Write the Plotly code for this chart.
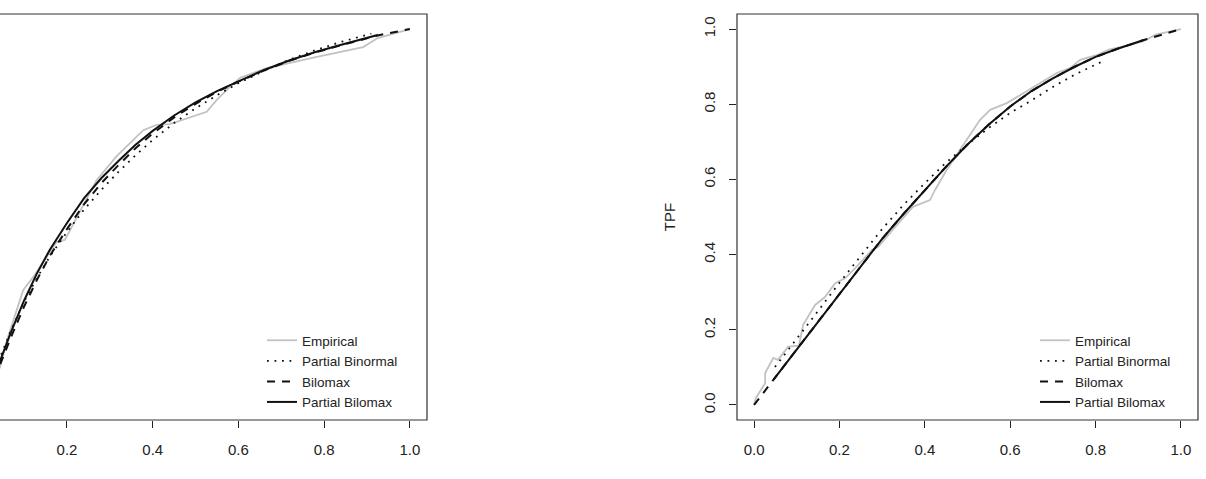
import plotly.graph_objects as go

# ---------------- data ----------------
# Left panel
L_emp_fpf = [0.0, 0.02, 0.044, 0.060, 0.098, 0.121, 0.153, 0.176, 0.195, 0.211, 0.238, 0.269, 0.316, 0.378, 0.409, 0.440, 0.526, 0.549, 0.580, 0.604, 0.666, 0.720, 0.783, 0.891, 0.925, 1.0]
L_emp_tpf = [0.0, 0.045, 0.101, 0.173, 0.306, 0.340, 0.394, 0.434, 0.439, 0.473, 0.532, 0.598, 0.662, 0.731, 0.745, 0.747, 0.780, 0.811, 0.846, 0.870, 0.896, 0.910, 0.926, 0.952, 0.976, 1.0]

L_pbn_fpf = [0.02, 0.044, 0.07, 0.10, 0.13, 0.16, 0.20, 0.24, 0.28, 0.32, 0.36, 0.40, 0.45, 0.50, 0.55, 0.60, 0.66, 0.72, 0.78, 0.84, 0.91]
L_pbn_tpf = [0.060, 0.128, 0.200, 0.275, 0.338, 0.395, 0.460, 0.520, 0.572, 0.620, 0.664, 0.705, 0.750, 0.789, 0.824, 0.856, 0.889, 0.919, 0.944, 0.966, 0.988]

L_blx_fpf = [0.0, 0.02, 0.044, 0.07, 0.10, 0.13, 0.16, 0.20, 0.24, 0.28, 0.32, 0.36, 0.40, 0.45, 0.50, 0.55, 0.60, 0.66, 0.72, 0.78, 0.84, 0.88, 0.925, 0.96, 1.0]
L_blx_tpf = [0.0, 0.043, 0.108, 0.182, 0.262, 0.333, 0.397, 0.468, 0.534, 0.590, 0.638, 0.683, 0.722, 0.765, 0.801, 0.833, 0.860, 0.890, 0.916, 0.938, 0.957, 0.969, 0.983, 0.991, 1.0]

L_pbx_fpf = [0.02, 0.044, 0.07, 0.10, 0.13, 0.16, 0.20, 0.24, 0.28, 0.32, 0.36, 0.40, 0.45, 0.50, 0.55, 0.60, 0.66, 0.72, 0.78, 0.84, 0.88, 0.925]
L_pbx_tpf = [0.045, 0.118, 0.196, 0.278, 0.350, 0.413, 0.484, 0.550, 0.603, 0.649, 0.692, 0.729, 0.770, 0.805, 0.835, 0.861, 0.891, 0.917, 0.939, 0.958, 0.970, 0.984]

# Right panel
R_emp_fpf = [0.0, 0.004, 0.026, 0.026, 0.045, 0.056, 0.080, 0.105, 0.115, 0.143, 0.166, 0.190, 0.213, 0.237, 0.276, 0.291, 0.325, 0.372, 0.412, 0.424, 0.451, 0.498, 0.529, 0.553, 0.592, 0.623, 0.670, 0.709, 0.740, 0.764, 0.806, 0.831, 0.882, 0.911, 0.941, 1.0]
R_emp_tpf = [0.0, 0.018, 0.058, 0.085, 0.125, 0.120, 0.155, 0.158, 0.213, 0.266, 0.287, 0.324, 0.337, 0.364, 0.412, 0.421, 0.466, 0.527, 0.545, 0.572, 0.625, 0.705, 0.758, 0.785, 0.803, 0.824, 0.856, 0.883, 0.896, 0.918, 0.932, 0.945, 0.958, 0.967, 0.985, 1.0]

R_pbn_fpf = [0.049, 0.10, 0.15, 0.20, 0.25, 0.30, 0.35, 0.40, 0.45, 0.50, 0.55, 0.60, 0.65, 0.70, 0.75, 0.80, 0.82]
R_pbn_tpf = [0.101, 0.175, 0.250, 0.325, 0.397, 0.468, 0.532, 0.590, 0.645, 0.693, 0.737, 0.777, 0.810, 0.846, 0.878, 0.906, 0.916]

R_blx_fpf = [0.0, 0.03, 0.046, 0.10, 0.15, 0.20, 0.25, 0.30, 0.35, 0.40, 0.45, 0.50, 0.55, 0.60, 0.65, 0.70, 0.75, 0.80, 0.85, 0.911, 0.95, 1.0]
R_blx_tpf = [0.0, 0.046, 0.068, 0.148, 0.222, 0.297, 0.371, 0.442, 0.508, 0.572, 0.634, 0.693, 0.746, 0.794, 0.835, 0.869, 0.899, 0.926, 0.947, 0.970, 0.983, 1.0]

R_pbx_fpf = [0.046, 0.10, 0.15, 0.20, 0.25, 0.30, 0.35, 0.40, 0.45, 0.50, 0.55, 0.60, 0.65, 0.70, 0.75, 0.80, 0.85, 0.911]
R_pbx_tpf = [0.068, 0.148, 0.222, 0.297, 0.371, 0.442, 0.508, 0.572, 0.634, 0.693, 0.746, 0.794, 0.835, 0.869, 0.899, 0.926, 0.947, 0.970]

tick_vals = [0.0, 0.2, 0.4, 0.6, 0.8, 1.0]
tick_text = ["0.0", "0.2", "0.4", "0.6", "0.8", "1.0"]
series_names = ["Empirical", "Partial Binormal", "Bilomax", "Partial Bilomax"]

# ---------------- styling ----------------
FONT = "Liberation Sans, Arial, Helvetica, sans-serif"
FS = 15
LFS = 13.5
W, H = 1206, 479
ML, MR, MT, MB = 0, 8, 14, 59
PW = W - ML - MR

styles = [
    dict(color="#c2c2c2", width=1.8, dash="solid"),
    dict(color="#111111", width=1.8, dash="1.8px,5.7px"),
    dict(color="#111111", width=2.0, dash="8px,7px"),
    dict(color="#111111", width=2.0, dash="solid"),
]

fig = go.Figure()

left_sets = [(L_emp_fpf, L_emp_tpf), (L_pbn_fpf, L_pbn_tpf), (L_blx_fpf, L_blx_tpf), (L_pbx_fpf, L_pbx_tpf)]
right_sets = [(R_emp_fpf, R_emp_tpf), (R_pbn_fpf, R_pbn_tpf), (R_blx_fpf, R_blx_tpf), (R_pbx_fpf, R_pbx_tpf)]

for (xs, ys), nm, st in zip(left_sets, series_names, styles):
    fig.add_trace(go.Scatter(x=xs, y=ys, mode="lines", name=nm, line=st,
                             xaxis="x", yaxis="y", legend="legend", hoverinfo="skip"))
for (xs, ys), nm, st in zip(right_sets, series_names, styles):
    fig.add_trace(go.Scatter(x=xs, y=ys, mode="lines", name=nm, line=st,
                             xaxis="x2", yaxis="y2", legend="legend2", hoverinfo="skip"))

left_dom = [0.0, 427 / PW]
right_dom = [737 / PW, 1198 / PW]

axis_common = dict(showgrid=False, zeroline=False, showline=False,
                   ticks="outside", ticklen=7, tickwidth=1, tickcolor="#222",
                   tickfont=dict(family=FONT, size=FS, color="#222"),
                   tickvals=tick_vals, ticktext=tick_text)

leg_common = dict(bgcolor="rgba(0,0,0,0)", borderwidth=0,
                  font=dict(family=FONT, size=LFS, color="#222"),
                  xanchor="left", yanchor="top", traceorder="normal",
                  itemclick=False, itemdoubleclick=False)

fig.update_layout(
    width=W, height=H,
    margin=dict(l=ML, r=MR, t=MT, b=MB),
    paper_bgcolor="white", plot_bgcolor="white",
    font=dict(family=FONT, size=FS, color="#222"),
    xaxis=dict(domain=left_dom, range=[0.0437, 1.04], anchor="y",
               ticklabelstandoff=9, **axis_common),
    yaxis=dict(domain=[0, 1], range=[-0.04, 1.04], anchor="x", visible=False),
    xaxis2=dict(domain=right_dom, range=[-0.04, 1.04], anchor="y2",
                ticklabelstandoff=9, **axis_common),
    yaxis2=dict(domain=[0, 1], range=[-0.04, 1.04], anchor="x2",
                tickangle=-90, ticklabelstandoff=8,
                title=dict(text="TPF", font=dict(family=FONT, size=FS, color="#222"), standoff=21),
                **axis_common),
    legend=dict(x=262 / PW, y=(420 - 325) / 406, **leg_common),
    legend2=dict(x=1035 / PW, y=(420 - 325) / 406, **leg_common),
    showlegend=True,
    shapes=[
        dict(type="rect", xref="paper", yref="paper", x0=-0.05, x1=427 / PW, y0=0, y1=1,
             line=dict(color="#333", width=1.2), fillcolor="rgba(0,0,0,0)", layer="above"),
        dict(type="rect", xref="paper", yref="paper", x0=737 / PW, x1=1198 / PW, y0=0, y1=1,
             line=dict(color="#333", width=1.2), fillcolor="rgba(0,0,0,0)", layer="above"),
    ],
)

fig.write_html("out.html")
